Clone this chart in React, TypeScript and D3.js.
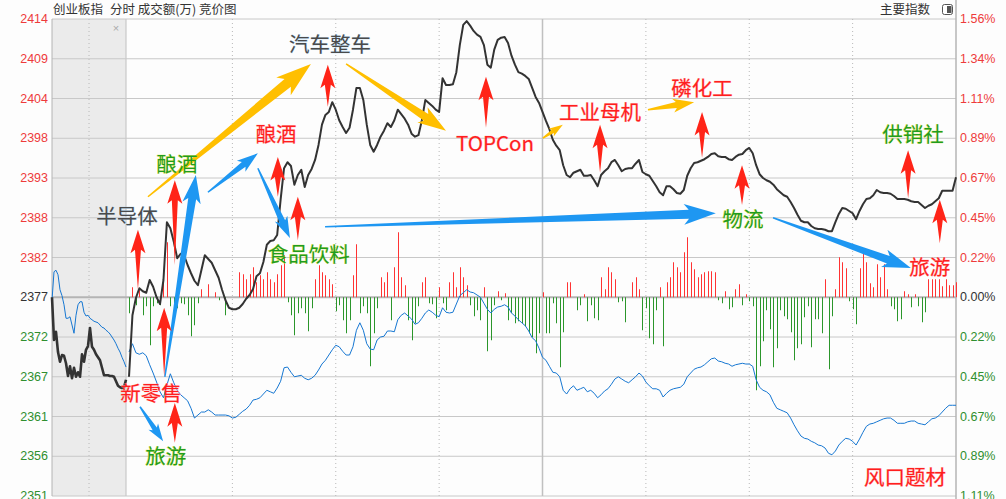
import React from 'react';
import * as d3 from 'd3';

const W = 1006;
const H = 499;

// prior close and grid step (0.2229% of close)
const basePrice = 2377.1;
const levelStep = 5.2985;
const gridLevels = [7, 6, 5, 4, 3, 2, 1, 0, -1, -2, -3, -4, -5];
const leftLabels = ['2414', '2409', '2404', '2398', '2393', '2388', '2382', '2377', '2372', '2367', '2361', '2356', '2351'];
const rightLabels = ['1.56%', '1.34%', '1.11%', '0.89%', '0.67%', '0.45%', '0.22%', '0.00%', '0.22%', '0.45%', '0.67%', '0.89%', '1.11%'];
const timeGrid = [30, 60, 90, 120, 150, 180, 210];

// 9:15-9:25 call auction (evenly spaced samples)
const auctionPrice = [
  2377.1, 2371.4, 2372.5, 2369.8, 2368.5, 2369.4, 2369.3, 2368.3, 2366.6, 2367.9,
  2366.3, 2367.7, 2366.5, 2367.1, 2366.5, 2369.5, 2368.5, 2370.1, 2370.6, 2373.0,
  2370.5, 2370.1, 2369.5, 2369.1, 2368.7, 2367.7, 2366.7, 2366.7, 2366.7, 2366.6,
  2366.6, 2366.5, 2365.9, 2365.3, 2365.1, 2365.0, 2365.1, 2366.1,
];
const auctionBlue = [
  2376.7, 2380.5, 2380.7, 2380.1, 2378.1, 2377.3, 2376.1, 2374.3, 2374.3, 2374.5,
  2373.4, 2372.3, 2374.7, 2376.1, 2376.5, 2376.5, 2375.1, 2374.6, 2374.7, 2374.3,
  2374.1, 2373.9, 2373.8, 2373.7, 2373.4, 2373.1, 2373.0, 2372.7, 2372.5, 2372.2,
  2371.8, 2371.4, 2370.9, 2370.3, 2369.8, 2369.1, 2368.5, 2367.8,
];

// one value per minute, 9:30 .. 15:00 (241 points)
const price = [
  2366.5, 2374.7, 2377.0, 2378.3, 2377.9, 2377.7, 2379.4, 2378.5, 2377.1, 2376.2,
  2379.4, 2387.1, 2386.3, 2384.5, 2382.3, 2382.9, 2382.7, 2381.4, 2380.3, 2379.3,
  2378.7, 2380.7, 2382.7, 2382.2, 2381.7, 2380.7, 2379.7, 2378.1, 2376.7, 2375.7,
  2375.5, 2375.5, 2375.7, 2376.2, 2376.9, 2377.4, 2378.2, 2379.9, 2380.3, 2381.8,
  2384.1, 2384.6, 2384.7, 2385.4, 2390.1, 2394.3, 2395.1, 2394.6, 2392.1, 2393.4,
  2394.1, 2391.8, 2393.4, 2394.2, 2395.4, 2397.4, 2400.1, 2401.4, 2401.8, 2403.1,
  2402.1, 2400.7, 2399.8, 2399.0, 2399.7, 2402.1, 2405.0, 2405.0, 2403.4, 2400.1,
  2397.4, 2396.5, 2397.4, 2398.5, 2399.3, 2400.3, 2399.8, 2400.7, 2402.1, 2401.5,
  2400.9, 2400.1, 2398.9, 2398.5, 2398.7, 2400.7, 2403.4, 2403.0, 2402.6, 2402.1,
  2401.8, 2406.3, 2405.4, 2405.4, 2405.5, 2407.1, 2410.7, 2413.4, 2413.9, 2413.3,
  2412.6, 2412.1, 2411.8, 2410.7, 2408.1, 2407.7, 2410.1, 2411.4, 2411.7, 2411.8,
  2411.0, 2409.3, 2408.1, 2407.1, 2406.9, 2406.6, 2406.2, 2405.0, 2403.8, 2403.0,
  2401.8, 2400.6, 2399.5, 2398.1, 2397.3, 2396.7, 2394.7, 2393.4, 2393.1, 2393.7,
  2393.9, 2394.1, 2393.3, 2393.3, 2393.4, 2392.7, 2391.9, 2393.4, 2393.9, 2394.3,
  2395.1, 2395.4, 2394.7, 2393.9, 2394.2, 2394.3, 2394.3, 2394.9, 2395.4, 2393.8,
  2393.5, 2393.3, 2392.6, 2391.9, 2391.1, 2390.7, 2391.9, 2391.9, 2391.5, 2391.0,
  2390.9, 2391.4, 2393.3, 2394.3, 2395.0, 2395.1, 2395.3, 2395.5, 2395.8, 2396.2,
  2396.3, 2395.9, 2395.8, 2395.8, 2395.5, 2395.4, 2395.8, 2396.1, 2396.2, 2396.7,
  2397.0, 2396.3, 2394.7, 2393.5, 2393.0, 2392.7, 2392.5, 2392.1, 2391.5, 2391.1,
  2390.7, 2390.5, 2389.8, 2389.0, 2388.1, 2387.3, 2387.1, 2387.1, 2386.6, 2386.3,
  2386.2, 2386.2, 2386.1, 2385.9, 2385.9, 2387.1, 2388.2, 2389.0, 2388.9, 2388.6,
  2388.3, 2387.5, 2388.6, 2389.5, 2390.2, 2390.3, 2390.7, 2391.4, 2391.1, 2391.0,
  2391.0, 2390.9, 2390.6, 2390.2, 2390.2, 2390.2, 2390.1, 2389.9, 2389.8, 2389.8,
  2389.4, 2389.0, 2389.3, 2389.5, 2389.9, 2390.3, 2391.3, 2391.3, 2391.3, 2391.3,
  2393.1,
];

const bluePrice = [
  2369.8, 2370.9, 2369.7, 2369.5, 2369.7, 2369.3, 2368.1, 2367.0, 2365.8, 2364.5,
  2363.7, 2365.4, 2366.9, 2365.7, 2364.7, 2364.1, 2363.7, 2363.3, 2362.3, 2361.0,
  2361.4, 2361.8, 2361.8, 2362.1, 2361.8, 2361.4, 2361.4, 2361.4, 2361.4, 2361.3,
  2361.0, 2361.1, 2361.5, 2361.9, 2362.2, 2362.7, 2363.4, 2363.5, 2363.7, 2364.2,
  2364.7, 2364.5, 2364.3, 2365.0, 2365.9, 2367.7, 2367.8, 2367.1, 2366.5, 2366.6,
  2366.7, 2366.3, 2366.1, 2366.3, 2366.7, 2367.4, 2368.2, 2368.7, 2369.4, 2370.1,
  2370.7, 2370.5, 2369.9, 2369.4, 2369.4, 2370.5, 2372.7, 2373.7, 2372.7, 2370.9,
  2370.2, 2370.1, 2371.4, 2371.8, 2371.9, 2372.6, 2372.6, 2372.5, 2374.1, 2374.7,
  2375.0, 2374.6, 2374.2, 2373.5, 2373.7, 2374.3, 2375.0, 2375.4, 2375.1, 2374.7,
  2374.5, 2375.7, 2375.1, 2375.0, 2375.1, 2376.2, 2377.3, 2377.7, 2378.1, 2377.8,
  2377.7, 2377.4, 2377.1, 2376.3, 2375.5, 2375.0, 2375.5, 2375.8, 2375.9, 2376.1,
  2375.8, 2375.0, 2374.6, 2374.1, 2373.7, 2373.3, 2372.6, 2371.7, 2371.3, 2370.3,
  2369.1, 2368.7, 2367.9, 2367.1, 2367.0, 2366.5, 2364.7, 2364.2, 2364.9, 2365.3,
  2364.7, 2364.9, 2365.1, 2364.5, 2364.7, 2364.3, 2363.7, 2364.1, 2364.6, 2364.9,
  2365.5, 2366.2, 2366.5, 2366.2, 2365.9, 2365.7, 2366.1, 2366.5, 2367.0, 2366.6,
  2365.8, 2365.3, 2364.9, 2364.9, 2364.7, 2363.8, 2364.3, 2364.7, 2364.9, 2365.0,
  2365.1, 2365.5, 2366.5, 2367.0, 2367.5, 2367.7, 2367.8, 2368.1, 2368.5, 2368.9,
  2369.0, 2368.6, 2368.5, 2368.3, 2368.2, 2367.9, 2368.1, 2368.2, 2368.3, 2368.2,
  2368.2, 2367.9, 2366.1, 2365.1, 2364.7, 2364.5, 2364.1, 2363.1, 2362.3, 2362.1,
  2361.9, 2361.7, 2361.0, 2360.1, 2359.3, 2358.6, 2358.3, 2358.2, 2357.9, 2357.7,
  2357.4, 2357.3, 2357.0, 2356.3, 2356.1, 2356.6, 2357.4, 2357.9, 2358.3, 2358.2,
  2357.9, 2357.4, 2358.2, 2359.1, 2359.9, 2360.2, 2360.3, 2360.5, 2360.7, 2360.9,
  2361.0, 2361.0, 2360.7, 2360.3, 2360.3, 2360.3, 2360.5, 2360.6, 2360.6, 2360.3,
  2360.2, 2360.1, 2360.5, 2360.9, 2361.0, 2361.3, 2361.8, 2362.3, 2362.7, 2362.7,
  2362.7,
];

// turnover per minute, +buy (red) / -sell (green), in units of 100万
const volume = [
  -16, 10, -8, 8, -18, -9, -48, -9, -6, -8,
  18, 55, -9, -18, -11, -6, -7, -18, -39, -28,
  -6, 8, 0, 13, 0, 5, -3, 0, -18, 0,
  0, 0, 25, 23, 18, 23, 30, 15, 22, 18,
  25, 18, 15, 23, 32, 42, -5, -18, -38, -16,
  -11, -16, -34, -11, 18, 32, 25, 22, 18, 13,
  -14, -8, -23, -36, -23, 22, 53, -16, -9, -16,
  -69, -36, -11, 20, 15, 25, -23, 30, 65, 20,
  12, -23, -43, -26, -9, 15, 20, -6, -7, -21,
  10, -6, -13, 15, 25, 10, 30, 20, 12, -8,
  -19, -13, -23, 10, -54, -43, -8, 6, -3, 4,
  -23, -16, -26, -24, -26, -29, -36, -40, -56, -36,
  5, -36, -36, -6, -26, -70, -35, 15, 15, 0,
  -13, -8, 3, -24, -8, -21, -23, 20, 8, 30,
  25, 18, -5, -4, -25, 0, 15, 20, 8, -33,
  -11, -41, -47, -13, 10, -49, 15, 20, 35, 30,
  25, 45, 60, 35, 28, 20, 23, 25, 26, 26,
  25, -3, -6, 6, -12, -10, 8, 13, -8, 3,
  -4, -9, -93, -69, -44, -13, -32, -70, -51, -13,
  -19, -22, -35, -63, -51, -47, -20, -9, -50, -22,
  -22, -36, 18, -72, -19, 8, 40, 35, 29, -4,
  -12, -27, 29, 45, 35, 14, 10, 33, 20, 33,
  8, -9, -12, -24, -22, 6, 3, -10, 3, -9,
  -25, -15, 18, 18, 18, 18, 11, 18, 12, 12,
  15,
];

// theme labels: minute, price, colour kind
const labelText = ['半导体', '酿酒', '新零售', '旅游', '酿酒', '食品饮料', '汽车整车', 'TOPCon', '工业母机', '磷化工', '物流', '供销社', '旅游', '风口题材'];
const labelTime = [-0.6, 13.9, 6.4, 10.7, 42.7, 52.2, 58.3, 106.2, 136.7, 166.3, 178.2, 227.5, 232.4, 225.2];
const labelPrice = [2388.1, 2395.0, 2364.5, 2356.1, 2399.0, 2383.0, 2411.0, 2397.8, 2401.9, 2405.1, 2387.7, 2399.0, 2381.3, 2353.3];
const labelKind = ['gray', 'green', 'red', 'green', 'red', 'green', 'gray', 'red', 'red', 'red', 'green', 'green', 'red', 'red'];

// red "up" markers: minute, top price, bottom price
const upTime = [2.6, 13.3, 10.2, 13.3, 43.2, 49, 57.7, 103.6, 136.7, 166.3, 177.9, 226.1, 235.3];
const upTop = [2386.1, 2392.7, 2375.7, 2363.0, 2395.8, 2390.5, 2408.1, 2406.5, 2400.1, 2401.8, 2394.7, 2396.7, 2390.1];
const upBottom = [2378.1, 2381.4, 2366.5, 2357.7, 2390.5, 2384.7, 2402.5, 2399.7, 2393.7, 2395.7, 2389.4, 2390.3, 2384.3];

// rotation arrows: tail (minute, price) -> tip (minute, price)
const flowColor = ['blue', 'blue', 'blue', 'blue', 'blue', 'blue', 'yellow', 'yellow', 'yellow', 'yellow'];
const flowFromT = [10.4, 22.9, 37.4, 56.9, 186.9, 3.2, 5.5, 63, 120.1, 150.6];
const flowFromP = [2366.5, 2391.1, 2394.3, 2386.5, 2387.7, 2362.5, 2390.5, 2408.2, 2398.3, 2402.1];
const flowToT = [19.4, 37.4, 46.7, 170.3, 226.9, 9.9, 52.8, 92, 125.9, 164];
const flowToP = [2393.4, 2396.3, 2385.0, 2388.3, 2381.0, 2357.9, 2408.2, 2399.3, 2400.1, 2403.1];
const flowWidth = [8, 6, 6, 9, 8, 5, 10, 8, 4, 6];

const left = 52;
const right = 956;
const top = 19;
const bottom = 496;
const auctionEnd = 126;

const y = d3.scaleLinear().domain([basePrice - 5 * levelStep, basePrice + 7 * levelStep]).range([bottom, top]);
const x = d3.scaleLinear().domain([0, 240]).range([129, right]);
const xa = d3.scaleLinear().domain([0, auctionPrice.length - 1]).range([left, auctionEnd]);
const vh = d3.scaleLinear().domain([0, 100]).range([0, 100]);

const kindFill: Record<string, string> = { gray: '#4a4a4a', green: '#1f9d1f', red: '#ff1e1e' };
const kindStroke: Record<string, string> = { gray: '#a8d0f0', green: '#e6e23a', red: '#ffa0a0' };

function arrowShape(x0: number, y0: number, x1: number, y1: number, tailW: number, shaftW: number, headW: number, headL: number) {
  const dx = x1 - x0;
  const dy = y1 - y0;
  const len = Math.hypot(dx, dy);
  const ux = dx / len;
  const uy = dy / len;
  const nx = -uy;
  const ny = ux;
  const hl = Math.min(headL, len * 0.55);
  const hx = x1 - ux * hl;
  const hy = y1 - uy * hl;
  const sweep = hl * 0.18;
  const pts: [number, number][] = [
    [x0 + nx * tailW / 2, y0 + ny * tailW / 2],
    [hx + nx * shaftW / 2, hy + ny * shaftW / 2],
    [hx - ux * sweep + nx * headW / 2, hy - uy * sweep + ny * headW / 2],
    [x1, y1],
    [hx - ux * sweep - nx * headW / 2, hy - uy * sweep - ny * headW / 2],
    [hx - nx * shaftW / 2, hy - ny * shaftW / 2],
    [x0 - nx * tailW / 2, y0 - ny * tailW / 2],
  ];
  return d3.line()(pts) + 'Z';
}

export default function App() {
  const mainLine = d3.line<number>().x((_, i) => x(i)).y(d => y(d));
  const auctionLine = d3.line<number>().x((_, i) => xa(i)).y(d => y(d));
  const baseY = y(basePrice);
  const numFont = '"Liberation Sans", Arial, sans-serif';
  const cjkFont = '"Noto Sans CJK SC", "Noto Sans", sans-serif';

  return (
    <svg width={W} height={H} style={{ position: 'absolute', left: 0, top: 0, background: '#fff' }}>
      <rect x={0} y={0} width={W} height={H} fill="#fdfdfd" />
      {/* call-auction zone */}
      <rect x={left} y={top} width={auctionEnd - left} height={bottom - top} fill="#ebebeb" />
      <line x1={auctionEnd} x2={auctionEnd} y1={top} y2={bottom} stroke="#c0c0c0" />
      <line x1={xa((auctionPrice.length - 1) / 2)} x2={xa((auctionPrice.length - 1) / 2)} y1={top} y2={bottom} stroke="#b8b8b8" strokeDasharray="1,3" />
      <text x={116} y={32} fontSize={11} fill="#aaa" textAnchor="middle" fontFamily={numFont}>×</text>

      {/* horizontal grid */}
      {gridLevels.map((lv, i) => {
        const yy = y(basePrice + lv * levelStep);
        return (
          <line key={'g' + i} x1={left} x2={right} y1={yy} y2={yy} stroke={lv === 0 ? '#b4b4b4' : '#c8c8c8'} strokeWidth={lv === 0 ? 2 : 1} />
        );
      })}
      {/* vertical grid */}
      {timeGrid.map(t => (
        <line key={'t' + t} x1={x(t)} x2={x(t)} y1={top} y2={bottom} stroke={t === 120 ? '#c0c0c0' : '#b8b8b8'} strokeDasharray={t === 120 ? undefined : '1,3'} strokeWidth={t === 120 ? 1.5 : 1} />
      ))}
      <line x1={left} x2={left} y1={top} y2={bottom} stroke="#b4b4b4" />
      <line x1={right} x2={right} y1={0} y2={H} stroke="#b4b4b4" strokeWidth={1.5} />

      {/* axis labels */}
      {gridLevels.map((lv, i) => {
        const yy = y(basePrice + lv * levelStep);
        const col = lv > 0 ? '#ee3b3b' : lv < 0 ? '#2f8f2f' : '#333';
        return (
          <g key={'l' + i} fontFamily={numFont} fontSize={12.5} fill={col}>
            <text x={48} y={yy + 4} textAnchor="end">{leftLabels[i]}</text>
            <text x={960} y={yy + 4}>{rightLabels[i]}</text>
          </g>
        );
      })}

      {/* header */}
      <g fontSize={12.5} fill="#333" fontFamily={cjkFont}>
        <text x={53} y={14}>创业板指</text>
        <text x={110} y={14}>分时 成交额(万) 竞价图</text>
        <text x={930} y={14} textAnchor="end">主要指数</text>
      </g>
      <rect x={942.5} y={4.5} width={10} height={10} rx={2} fill="#fff" stroke="#555" />
      <rect x={947} y={6} width={4.5} height={7} fill="#555" />

      {/* turnover bars */}
      {volume.map((v, i) => (
        v === 0 ? null : (
          <line key={'v' + i} x1={Math.round(x(i)) + 0.5} x2={Math.round(x(i)) + 0.5} y1={baseY} y2={v > 0 ? baseY - vh(v) : baseY + vh(-v)} stroke={v > 0 ? '#ff3333' : '#2b962b'} strokeWidth={1} />
        )
      ))}

      {/* lines */}
      <path d={auctionLine(auctionBlue) || ''} fill="none" stroke="#1677d2" strokeWidth={1} />
      <path d={mainLine(bluePrice) || ''} fill="none" stroke="#1677d2" strokeWidth={1} />
      <path d={auctionLine(auctionPrice) || ''} fill="none" stroke="#333" strokeWidth={2.6} strokeLinejoin="round" />
      <path d={mainLine(price) || ''} fill="none" stroke="#333" strokeWidth={2} strokeLinejoin="round" />

      {/* rotation arrows */}
      {flowColor.map((c, i) => {
        const w = flowWidth[i];
        return (
          <path key={'f' + i}
            d={arrowShape(x(flowFromT[i]), y(flowFromP[i]), x(flowToT[i]), y(flowToP[i]), 1.5, w, w * 2.3, w * 3)}
            fill={c === 'blue' ? '#1e97f2' : '#ffbf00'} />
        );
      })}

      {/* red markers */}
      {upTime.map((t, i) => (
        <path key={'u' + i}
          d={arrowShape(x(t), y(upBottom[i]), x(t), y(upTop[i]), 0, 6, 15, 20)}
          fill="#ff2418" />
      ))}

      {/* theme labels */}
      {labelText.map((s, i) => (
        <text key={'a' + i} x={x(labelTime[i])} y={y(labelPrice[i])} textAnchor="middle" dominantBaseline="central"
          fontSize={20.5} fontFamily={cjkFont} fill={kindFill[labelKind[i]]}
          stroke={kindStroke[labelKind[i]]} strokeWidth={0.7} strokeOpacity={0.8} paintOrder="stroke">
          {s}
        </text>
      ))}
    </svg>
  );
}
